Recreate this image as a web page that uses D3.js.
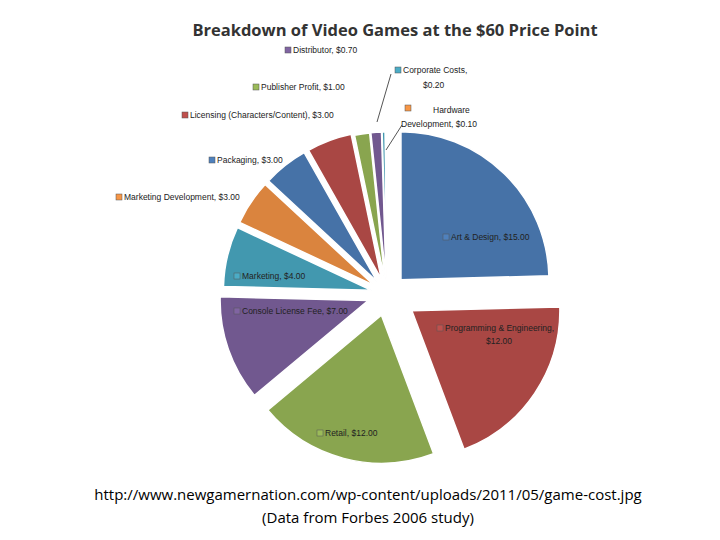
<!DOCTYPE html>
<html><head><meta charset="utf-8">
<script src="https://cdn.jsdelivr.net/npm/d3@7"></script>
<style>body{margin:0;background:#fff}</style>
</head><body>
<svg id="c" width="720" height="540"></svg>
<script>
const categories = ["Art & Design","Programming & Engineering","Retail","Console License Fee","Marketing","Marketing Development","Packaging","Licensing (Characters/Content)","Publisher Profit","Distributor","Corporate Costs","Hardware Development"];
const values = [15,12,12,7,4,3,3,3,1,0.7,0.2,0.1];
const labels = [["Art & Design, $15.00"],["Programming & Engineering,","$12.00"],["Retail, $12.00"],["Console License Fee, $7.00"],["Marketing, $4.00"],["Marketing Development,  $3.00"],["Packaging, $3.00"],["Licensing (Characters/Content), $3.00"],["Publisher Profit, $1.00"],["Distributor, $0.70"],["Corporate Costs,","$0.20"],["Hardware","Development, $0.10"]];

const colors = ["#4f81bd","#c0504d","#9bbb59","#8064a2","#4bacc6","#f79646","#4f81bd","#c0504d","#9bbb59","#8064a2","#4bacc6","#f79646"];
const explode = [20,30,22,20,16,16,16,16,14,14,14,14];
const labelPos = [[443,237],[437,328],[317,433],[234,311],[234,276],[116,197],[209,160],[182,115],[253,87],[285,50],[395,70],[405,108]];

const svg = d3.select("#c");
const cx=387, cy=294, r=148;
const defs = svg.append("defs");
colors.forEach((c,i)=>{
  const g=defs.append("radialGradient").attr("id","g"+i).attr("gradientUnits","userSpaceOnUse")
    .attr("cx",cx).attr("cy",cy).attr("r",r+30);
  g.append("stop").attr("offset","0%").attr("stop-color",d3.color(c).brighter(0.5));
  g.append("stop").attr("offset","100%").attr("stop-color",d3.color(c).darker(0.35));
});
const pie = d3.pie().sort(null).value(d=>d)(values);
const arc = d3.arc().innerRadius(0).outerRadius(r);
const g = svg.append("g").attr("transform",`translate(${cx},${cy})`);
g.selectAll("path").data(pie).join("path")
  .attr("d",arc)
  .attr("transform",(d,i)=>{const a=(d.startAngle+d.endAngle)/2;return `translate(${Math.sin(a)*explode[i]},${-Math.cos(a)*explode[i]})`;})
  .attr("fill",(d,i)=>`url(#g${i})`)
  .attr("stroke","#fff").attr("stroke-width",1.5);

svg.append("text").attr("x",395).attr("y",36).attr("text-anchor","middle")
  .attr("font-family","Open Sans, sans-serif").attr("font-weight","bold").attr("font-size",16.5).attr("fill","#333")
  .text("Breakdown of Video Games at the $60 Price Point");

svg.append("line").attr("x1",391).attr("y1",74).attr("x2",377).attr("y2",122).attr("stroke","#555");
svg.append("line").attr("x1",402).attr("y1",125).attr("x2",386).attr("y2",150).attr("stroke","#555");

labels.forEach((L,i)=>{
  const [x,y]=labelPos[i];
  svg.append("rect").attr("x",x).attr("y",y-3).attr("width",6).attr("height",6)
    .attr("fill",colors[i]).attr("stroke","#555").attr("stroke-width",0.5);
  const t=svg.append("text").attr("font-family","Liberation Sans, sans-serif").attr("font-size",8.5).attr("fill","#222");
  if(i===11){
    t.append("tspan").attr("x",x+28).attr("y",y+5).text(L[0]);
    t.append("tspan").attr("x",x-4).attr("y",y+19).text(L[1]);
  } else if(i===10){
    t.append("tspan").attr("x",x+8).attr("y",y+3).text(L[0]);
    t.append("tspan").attr("x",x+28).attr("y",y+18).text(L[1]);
  } else if(i===1){
    t.append("tspan").attr("x",x+8).attr("y",y+3).text(L[0]);
    t.append("tspan").attr("x",x+49).attr("y",y+16).text(L[1]);
  } else {
    t.append("tspan").attr("x",x+8).attr("y",y+3).text(L[0]);
  }
});

const ft = svg.append("text").attr("text-anchor","middle").attr("font-family","Open Sans, sans-serif").attr("font-size",15).attr("fill","#000");
ft.append("tspan").attr("x",368).attr("y",500).text("http://www.newgamernation.com/wp-content/uploads/2011/05/game-cost.jpg");
ft.append("tspan").attr("x",368).attr("y",523).text("(Data from Forbes 2006 study)");
</script>
</body></html>
